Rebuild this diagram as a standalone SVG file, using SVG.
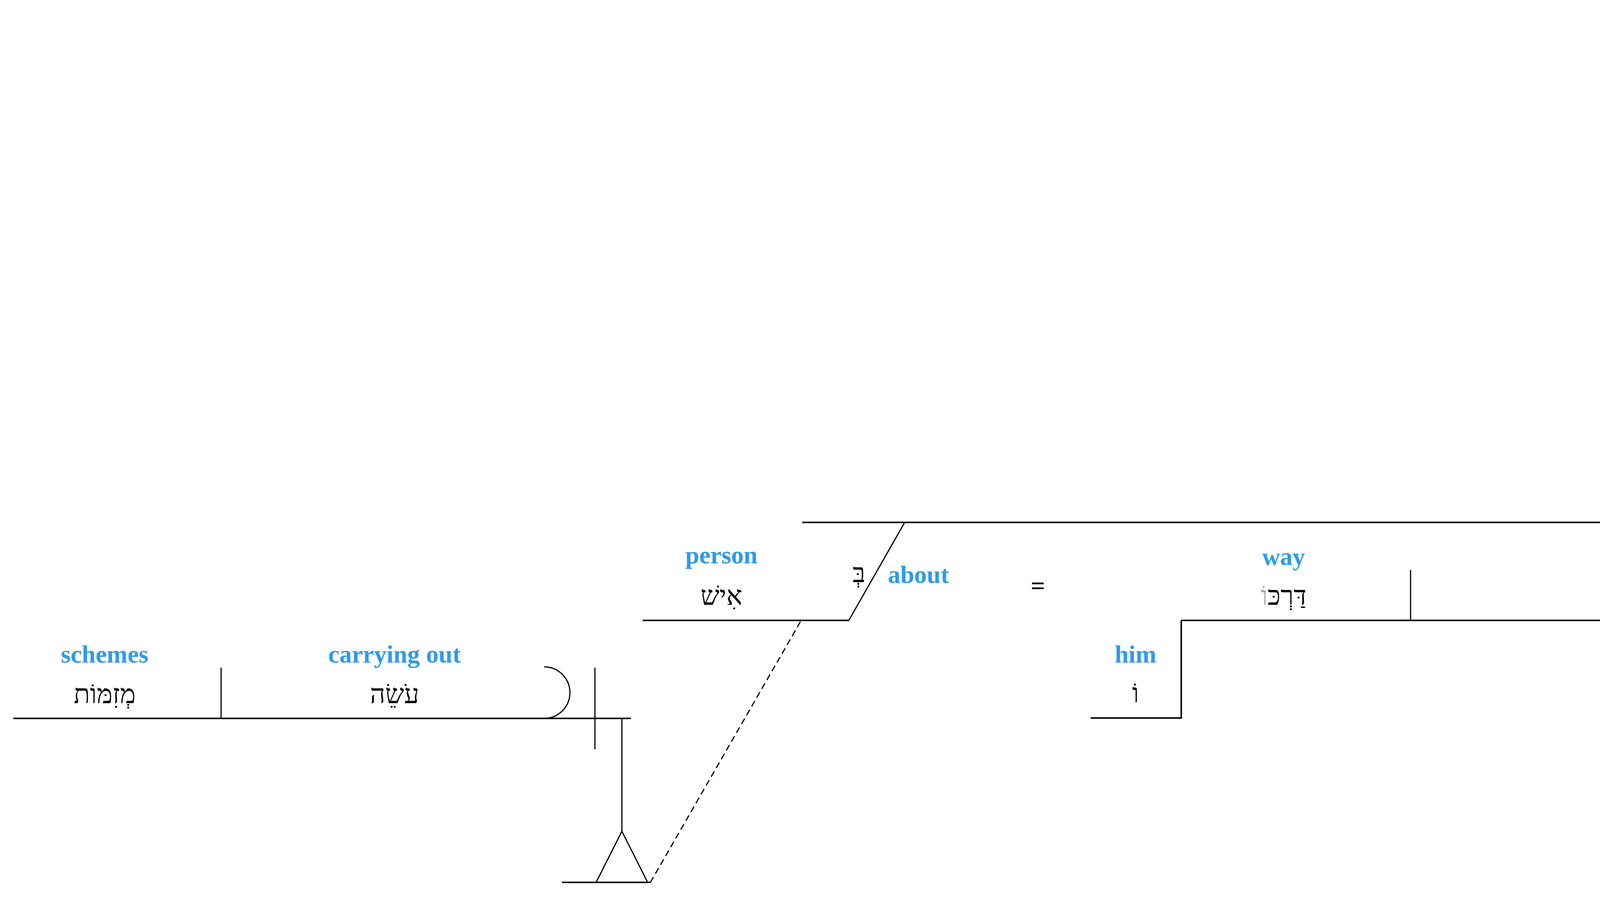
<svg xmlns="http://www.w3.org/2000/svg" width="6955" height="2300" viewBox="0 0 6955 2300">
<style>
.bg{fill:#ffffff}
.ln{stroke:#000;stroke-width:4;fill:none}
.th{stroke:#000;stroke-width:3;fill:none}
.ds{stroke:#000;stroke-width:3;fill:none;stroke-dasharray:16,10}
.pk{stroke:#DA52AB;stroke-width:4;fill:none}
.en{font-family:"Liberation Serif","Times New Roman",serif;font-weight:bold;font-size:64px;fill:#2E9BEA;text-anchor:middle}
.enl{font-family:"Liberation Serif","Times New Roman",serif;font-weight:bold;font-size:64px;fill:#2E9BEA;text-anchor:start}
.he{font-family:"Liberation Serif","DejaVu Sans",serif;font-size:68px;fill:#000;text-anchor:middle}
.pt{fill:#DA52AB}
.gr{fill:#AAAAAA}
.eq{font-family:"Liberation Serif",serif;font-weight:bold;font-size:64px;fill:#000;text-anchor:middle}
</style>
<rect class="bg" x="0" y="0" width="6955" height="2300"/>

<g id="connectors">
  <path class="ds" d="M6844,226 V727"/>
  <path class="th" d="M6144,226 L6002,477"/>
  <path class="th" d="M6322,727 L6179,978"/>
  <path class="th" d="M1592,1840 V2129"/>
  <path class="th" d="M1526,2260 L1592,2129 L1658,2260"/>
  <path class="ds" d="M1665,2260 L2051,1589"/>
  <path class="th" d="M2173,1589 L2316,1338"/>
  <path class="th" d="M6519,1338 L6445,1468"/>
  <path class="th" d="M6092,1338 L5651,2102"/>
  <path class="th" d="M5577,1588 V1972"/>
  <path class="th" d="M5511,2100 L5577,1972 L5640,2100"/>
  <path class="ln" d="M2792,1839 H3024 V1589"/>
</g>

<g id="clause-be-silent">
  <path class="ln" d="M5882,226 H6844"/>
  <path class="th" d="M6548,96 V305"/>
  <text class="en" x="6181" y="86">be silent</text>
  <text class="he" x="6181" y="186">דּוֹם</text>
</g>
<g id="node-yhwh">
  <path class="ln" d="M5485,477 H6002"/>
  <text class="en" x="5682" y="335">YHWH</text>
  <text class="he" x="5682" y="437">יְהוָה</text>
  <text class="he" x="6030" y="377">לְ</text>
  <text class="enl" x="6102" y="382">before</text>
</g>
<g id="conj-and">
  <text class="en" x="6764" y="438">and</text>
  <text class="he" x="6809" y="536">וְ</text>
</g>
<g id="clause-wait">
  <path class="pk" d="M5361,727 H5828"/>
  <path class="ln" d="M5828,727 H6844"/>
  <path class="th" d="M6548,598 V807"/>
  <text class="en pt" x="5593" y="585">wait</text>
  <text class="he pt" x="5593" y="688">הוֹחֵל</text>
  <text class="en" x="6214" y="586">wait</text>
  <text class="he" x="6214" y="688">הִתְחוֹלֵל</text>
</g>
<g id="node-him-top">
  <path class="ln" d="M5828,978 H6179"/>
  <text class="en" x="5942" y="836">him</text>
  <text class="he" x="5942" y="937">וֹ</text>
  <text class="he" x="6206" y="881">ל</text>
  <text class="enl" x="6280" y="884">for</text>
</g>

<g id="clause-get-upset">
  <path class="ln" d="M2054,1338 H6844"/>
  <path class="th" d="M6778,1209 V1417"/>
  <text class="en" x="4383" y="1196">get upset</text>
  <text class="he" x="4383" y="1309">תִּתְחַר</text>
  <text class="he" x="6419" y="1412">אַל</text>
  <text class="enl" x="6509" y="1414">not</text>
</g>
<g id="node-person">
  <path class="ln" d="M1645,1589 H2173"/>
  <text class="en" x="1847" y="1443">person</text>
  <text class="he" x="1847" y="1549">אִישׁ</text>
  <text class="he" x="2199" y="1491">בְּ</text>
  <text class="enl" x="2273" y="1493">about</text>
</g>
<text class="eq" id="equals" x="2657" y="1522">=</text>
<g id="clause-schemes">
  <path class="ln" d="M34,1840 H1615"/>
  <path class="th" d="M566,1710 V1840"/>
  <path class="th" d="M1393,1708 A66,66 0 0 1 1393,1840"/>
  <path class="th" d="M1523,1710 V1919"/>
  <path class="ln" d="M1439,2260 H1665"/>
  <text class="en" x="268" y="1697">schemes</text>
  <text class="he" x="268" y="1801">מְזִמּוֹת</text>
  <text class="en" x="1010" y="1697">carrying out</text>
  <text class="he" x="1010" y="1801">עֹשֵׂה</text>
</g>
<g id="clause-successful">
  <path class="ln" d="M3024,1589 H5603"/>
  <path class="th" d="M3611,1460 V1589"/>
  <path class="th" d="M5379,1458 A65,65 0 0 1 5379,1588"/>
  <path class="th" d="M5510,1459 V1667"/>
  <path class="ln" d="M5423,2102 H5651"/>
  <text class="en" x="3286" y="1447">way</text>
  <text class="he" x="3286" y="1549">דַּרְכּ<tspan class="gr">וֹ</tspan></text>
  <text class="en" x="4528" y="1447">someone who makes successful</text>
  <text class="he" x="4528" y="1549">מַצְלִיחַ</text>
  <text class="he" x="5829" y="1834">בְּ</text>
  <text class="enl" x="5902" y="1837">about</text>
</g>
<g id="node-him-bottom">
  <text class="en" x="2907" y="1697">him</text>
  <text class="he" x="2907" y="1799">וֹ</text>
</g>
</svg>
